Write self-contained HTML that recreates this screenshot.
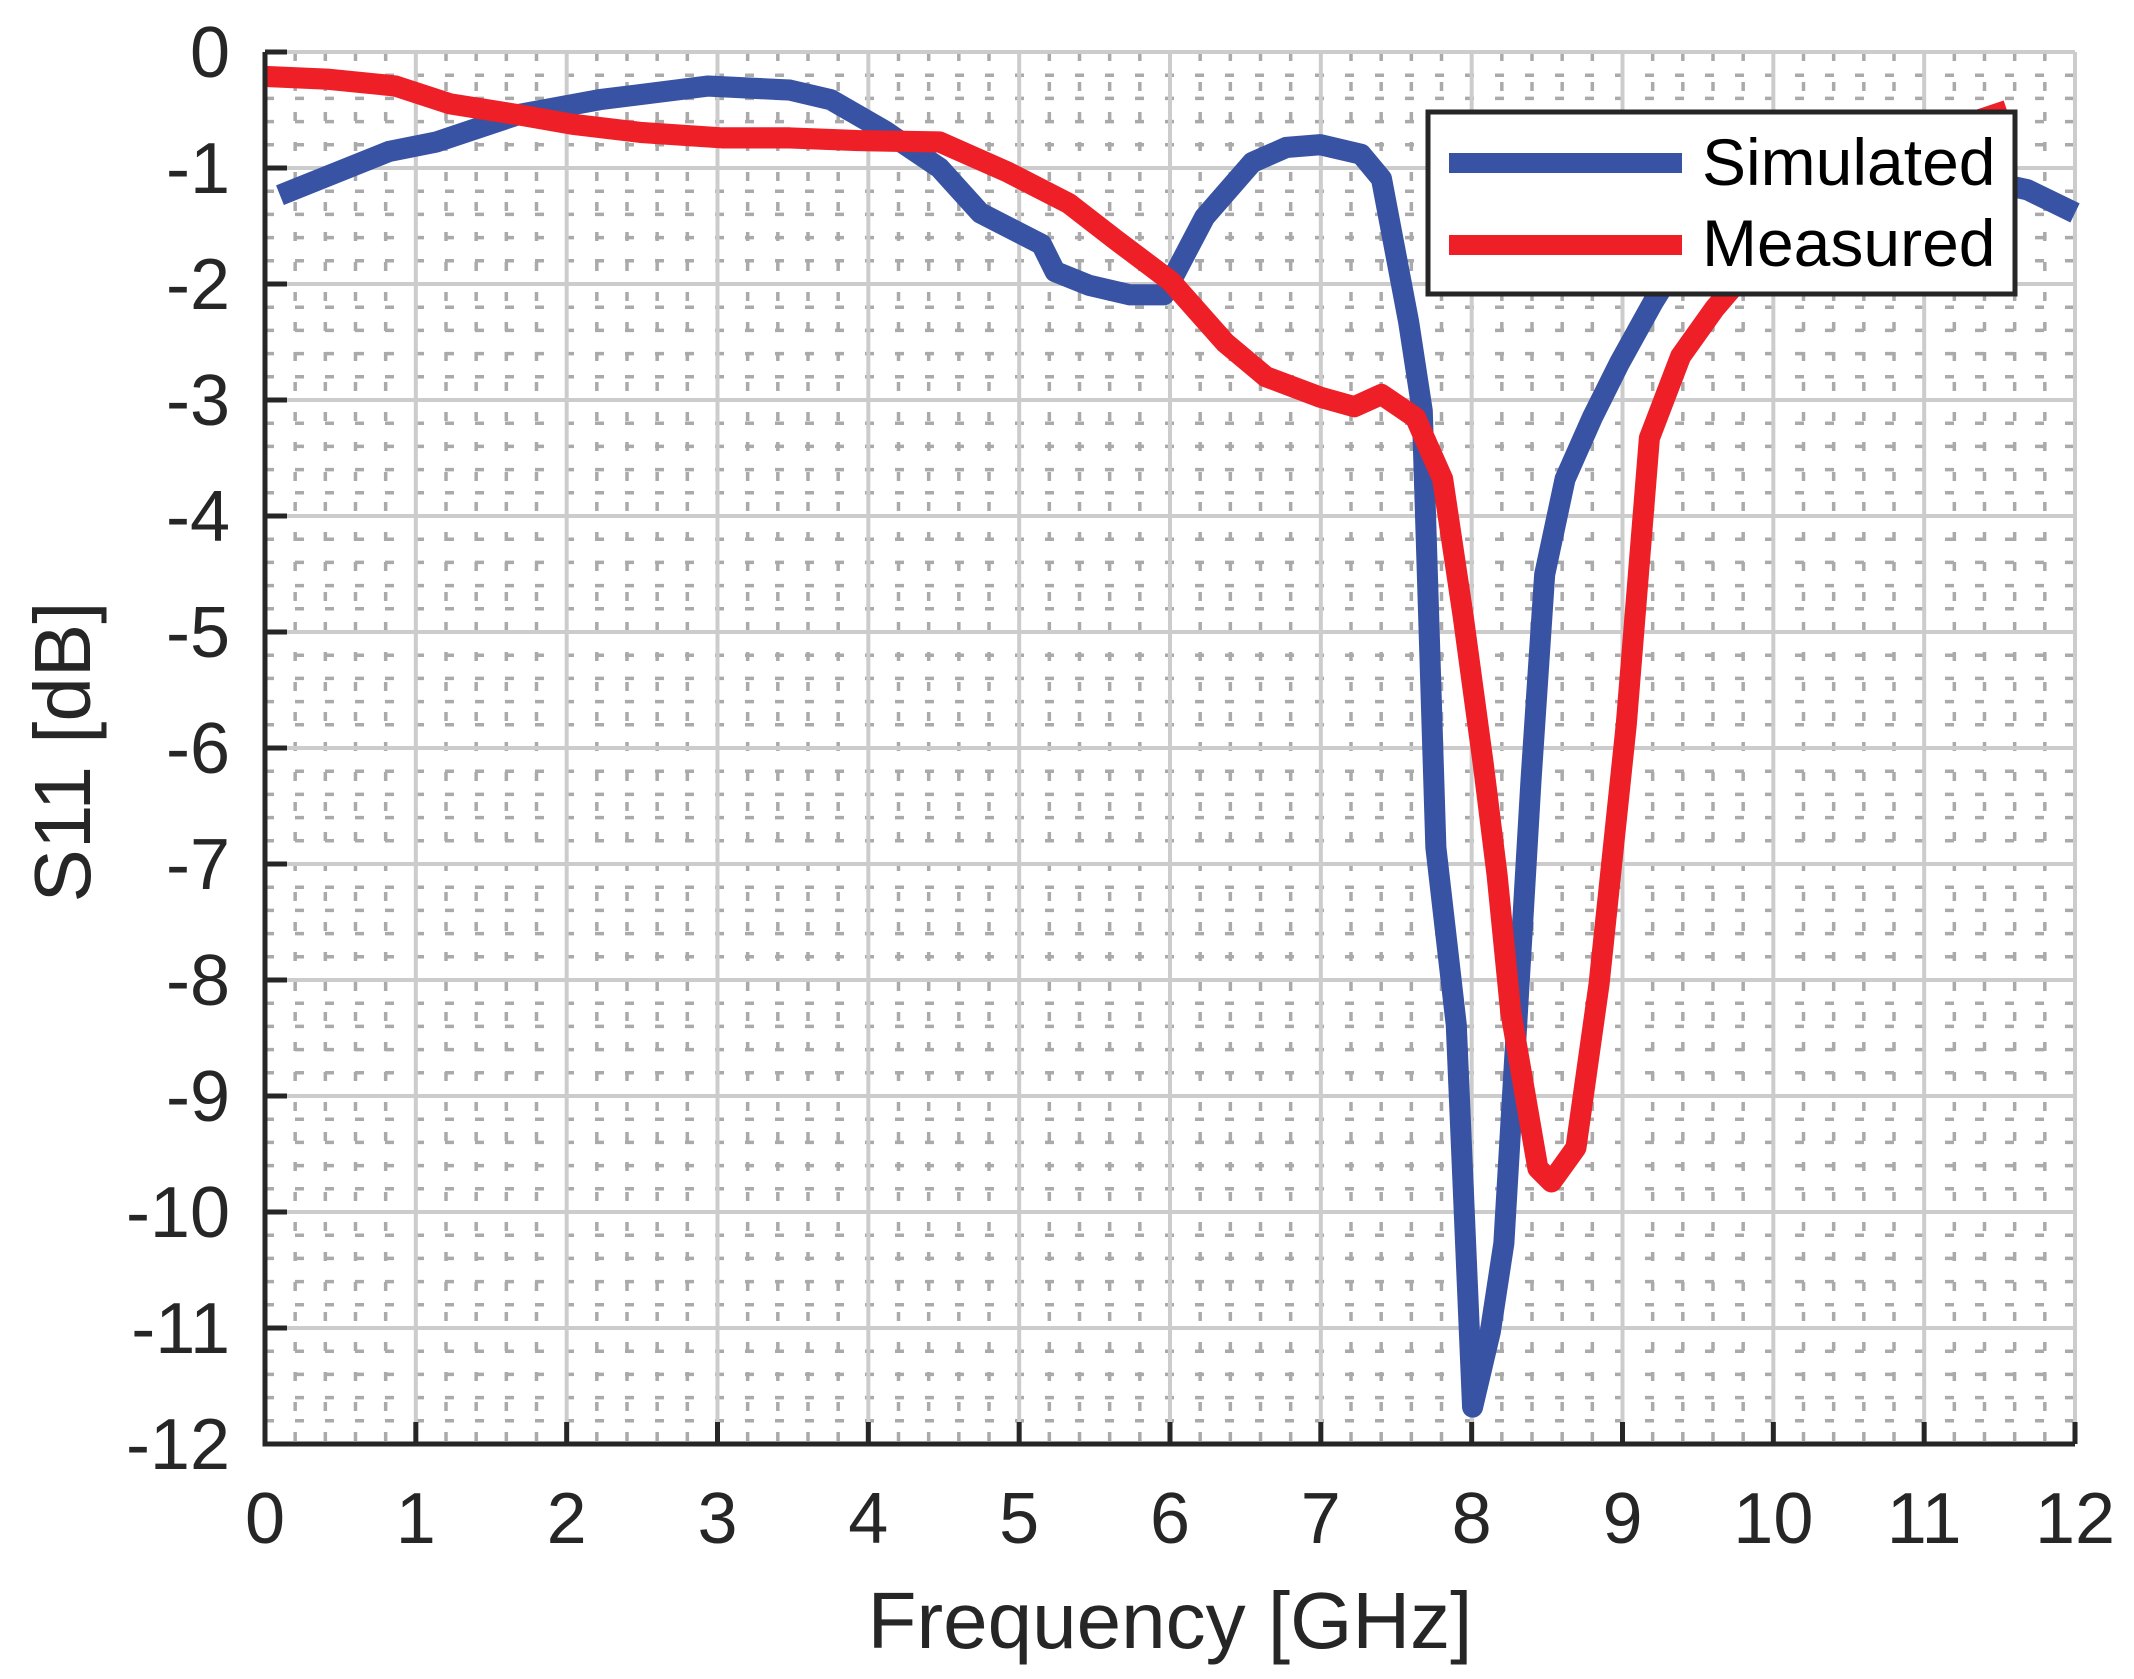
<!DOCTYPE html>
<html><head><meta charset="utf-8"><style>html,body{margin:0;padding:0;background:#fff}svg{display:block}</style></head>
<body>
<svg width="2134" height="1679" viewBox="0 0 2134 1679" xmlns="http://www.w3.org/2000/svg" font-family="Liberation Sans, Arial, sans-serif">
<defs><clipPath id="c"><rect x="265" y="40" width="1822" height="1410"/></clipPath></defs>
<g id="minor" stroke="#aaa" stroke-width="3.5" stroke-dasharray="9 21"></g>
<g id="major" stroke="#cccccc" stroke-width="4"></g>
<g clip-path="url(#c)">
<g fill="none" stroke-linejoin="round" transform="translate(265,56) scale(1.3599,1.3647) translate(-194,-40)">
<polyline stroke="#3953a4" stroke-width="15.5" points="205,142 285,110 320,103 380,83 440,72 520,62 580,65 610,72 650,95 690,122 720,155 765,178 775,198 800,208 830,215 855,215 885,158 920,118 945,107 970,105 1000,112 1015,130 1035,235 1045,300 1055,620 1070,750 1082,1030 1095,975 1105,910 1115,740 1125,570 1135,420 1150,350 1170,305 1190,265 1215,220 1240,180 1290,125 1330,118 1380,115 1430,125 1490,138 1525,155"/>
<polyline stroke="#ee1f26" stroke-width="15.5" points="194,55 240,57 290,62 330,75 380,83 420,90 470,96 530,100 580,100 630,102 690,103 740,125 785,148 820,175 860,205 900,250 930,275 970,290 995,297 1015,288 1040,305 1060,350 1075,450 1090,560 1100,640 1110,740 1130,855 1140,865 1158,840 1175,720 1195,530 1212,320 1235,260 1260,225 1290,190 1330,150 1380,120 1430,95 1475,80"/>
</g>
</g>
<g id="axes" stroke="#262626" stroke-width="5" fill="none"></g>
<g id="labels" fill="#262626" font-size="72"></g>
<text x="1170" y="1648" font-size="80" fill="#262626" text-anchor="middle">Frequency [GHz]</text>
<text transform="translate(90,752) rotate(-90)" font-size="80" fill="#262626" text-anchor="middle">S11 [dB]</text>
<rect x="1428" y="112" width="587" height="182" fill="#fff" stroke="#262626" stroke-width="5"/>
<line x1="1449" y1="163" x2="1682" y2="163" stroke="#3953a4" stroke-width="20"/>
<line x1="1449" y1="245" x2="1682" y2="245" stroke="#ee1f26" stroke-width="20"/>
<text x="1702" y="185" font-size="66" fill="#000">Simulated</text>
<text x="1702" y="266" font-size="66" fill="#000">Measured</text>
</svg>
<script>
(function(){
var ns="http://www.w3.org/2000/svg";
var X0=265,X1=2075,Y0=52,Y1=1444;
function el(p,t,a){var e=document.createElementNS(ns,t);for(var k in a)e.setAttribute(k,a[k]);p.appendChild(e);return e;}
var mi=document.getElementById('minor'),ma=document.getElementById('major'),ax=document.getElementById('axes'),lb=document.getElementById('labels');
for(var i=0;i<=60;i++){var x=X0+(X1-X0)*i/60;if(i%5)el(mi,'line',{x1:x,y1:Y0,x2:x,y2:Y1});}
for(var j=0;j<=60;j++){var y=Y0+(Y1-Y0)*j/60;if(j%5)el(mi,'line',{x1:X0,y1:y,x2:X1,y2:y});}
for(var i=0;i<=12;i++){var x=X0+(X1-X0)*i/12;el(ma,'line',{x1:x,y1:Y0,x2:x,y2:Y1});
 el(ax,'line',{x1:x,y1:Y1,x2:x,y2:Y1-22});
 var t=el(lb,'text',{x:x,y:1543,'text-anchor':'middle'});t.textContent=i;}
for(var j=0;j<=12;j++){var y=Y0+(Y1-Y0)*j/12;el(ma,'line',{x1:X0,y1:y,x2:X1,y2:y});
 el(ax,'line',{x1:X0,y1:y,x2:X0+22,y2:y});
 var t=el(lb,'text',{x:230,y:y+25,'text-anchor':'end'});t.textContent=j==0?'0':'-'+j;}
el(ax,'polyline',{points:X0+','+Y0+' '+X0+','+Y1+' '+X1+','+Y1});
})();
</script>
</body></html>
